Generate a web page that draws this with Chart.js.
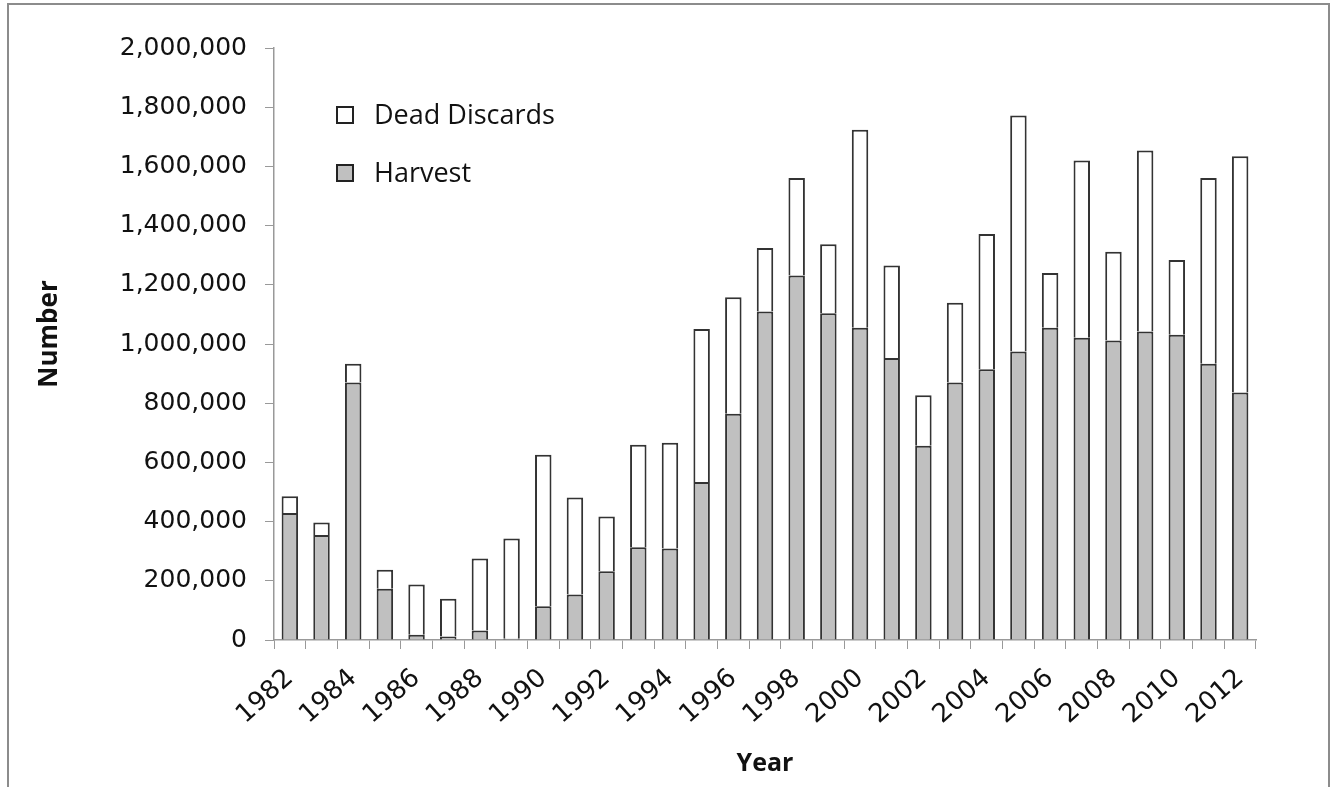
<!DOCTYPE html>
<html><head><meta charset="utf-8">
<script src="https://cdn.jsdelivr.net/npm/chart.js@4"></script>
<style>
html,body{margin:0;padding:0;background:#fff;overflow:hidden}
#wrap{position:relative;width:1338px;height:787px}
#frame{position:absolute;left:7px;top:3px;width:1323px;height:820px;border:2px solid #8c8c8c;box-sizing:border-box;pointer-events:none}
canvas{position:absolute;left:0;top:0}
</style></head><body>
<div id="wrap"><canvas id="c" width="1338" height="787"></canvas><div id="frame"></div></div>
<script>
const years = ['1982','1983','1984','1985','1986','1987','1988','1989','1990','1991','1992','1993','1994','1995','1996','1997','1998','1999','2000','2001','2002','2003','2004','2005','2006','2007','2008','2009','2010','2011','2012'];
const harvest = [429000,355000,870000,173000,17500,12000,32000,4000,114000,154000,232000,313500,309000,534000,764000,1110000,1231000,1104000,1055000,953000,656000,870000,915000,975000,1055000,1021000,1012000,1042000,1031000,933000,836000];
const deadDiscards = [57000,42000,63000,64000,170000,127000,243000,339000,512000,327000,185000,346500,357000,517000,394000,214000,330000,233000,669000,312000,171000,269000,457000,797000,185000,599000,300000,612000,253000,628000,798000];
const yMin = 0, yMax = 2000000, yStep = 200000;
const yTitle = 'Number';

const extrasPlugin = {
  id: 'extras',
  afterDraw(chart) {
    const ctx = chart.ctx;
    const items = [chart.data.datasets[1], chart.data.datasets[0]];
    const ys = [115, 173];
    ctx.save();
    items.forEach((ds, i) => {
      const y = ys[i];
      ctx.fillStyle = ds.backgroundColor;
      ctx.fillRect(337, y - 8, 16, 16);
      ctx.strokeStyle = '#222';
      ctx.lineWidth = 2;
      ctx.strokeRect(337, y - 8, 16, 16);
      ctx.fillStyle = '#111';
      ctx.font = '27px "Open Sans"';
      ctx.textBaseline = 'middle';
      ctx.textAlign = 'left';
      ctx.fillText(ds.label, 374, y + 1);
    });
    // y axis title
    ctx.translate(50, 334);
    ctx.rotate(-Math.PI / 2);
    ctx.font = 'bold 26px "Open Sans"';
    ctx.textAlign = 'center';
    ctx.textBaseline = 'middle';
    ctx.fillStyle = '#111';
    ctx.fillText(yTitle, 0, 0);
    ctx.restore();
  }
};

new Chart(document.getElementById('c'), {
  type: 'bar',
  data: {
    labels: years,
    datasets: [
      { label: 'Harvest', data: harvest, backgroundColor: '#c0c0c0', borderColor: '#333', borderWidth: 2, categoryPercentage: 1, barPercentage: 0.52 },
      { label: 'Dead Discards', data: deadDiscards, backgroundColor: '#ffffff', borderColor: '#333', borderWidth: 2, categoryPercentage: 1, barPercentage: 0.52 }
    ]
  },
  options: {
    responsive: false,
    animation: false,
    devicePixelRatio: 1,
    layout: { padding: { left: 0, top: 48, right: 82, bottom: 0 } },
    plugins: { legend: { display: false }, tooltip: { enabled: false } },
    scales: {
      x: {
        stacked: true,
        grid: { drawOnChartArea: false, tickLength: 9, color: '#999', offset: true },
        border: { color: '#999', width: 1.5 },
        ticks: {
          autoSkip: false, maxRotation: 42, minRotation: 42, padding: 14,
          color: '#111', font: { family: 'DejaVu Sans', size: 26 },
          callback: function(v, i) { return i % 2 === 0 ? this.getLabelForValue(v) : ''; }
        },
        title: { display: true, text: 'Year', color: '#111', font: { family: 'Open Sans', size: 25, weight: 'bold' }, padding: { top: 0, bottom: 8 } },
        afterFit(scale) { scale.height = 147; }
      },
      y: {
        stacked: true,
        min: yMin, max: yMax,
        grid: { drawOnChartArea: false, tickLength: 9, color: '#999' },
        border: { color: '#999', width: 1.5 },
        ticks: {
          stepSize: yStep, padding: 18, color: '#111',
          font: { family: 'DejaVu Sans', size: 25 },
          callback: v => v.toLocaleString('en-US')
        },
        title: { display: false },
        afterFit(scale) { scale.width = 274; }
      }
    }
  },
  plugins: [extrasPlugin]
});
</script>
</body></html>
